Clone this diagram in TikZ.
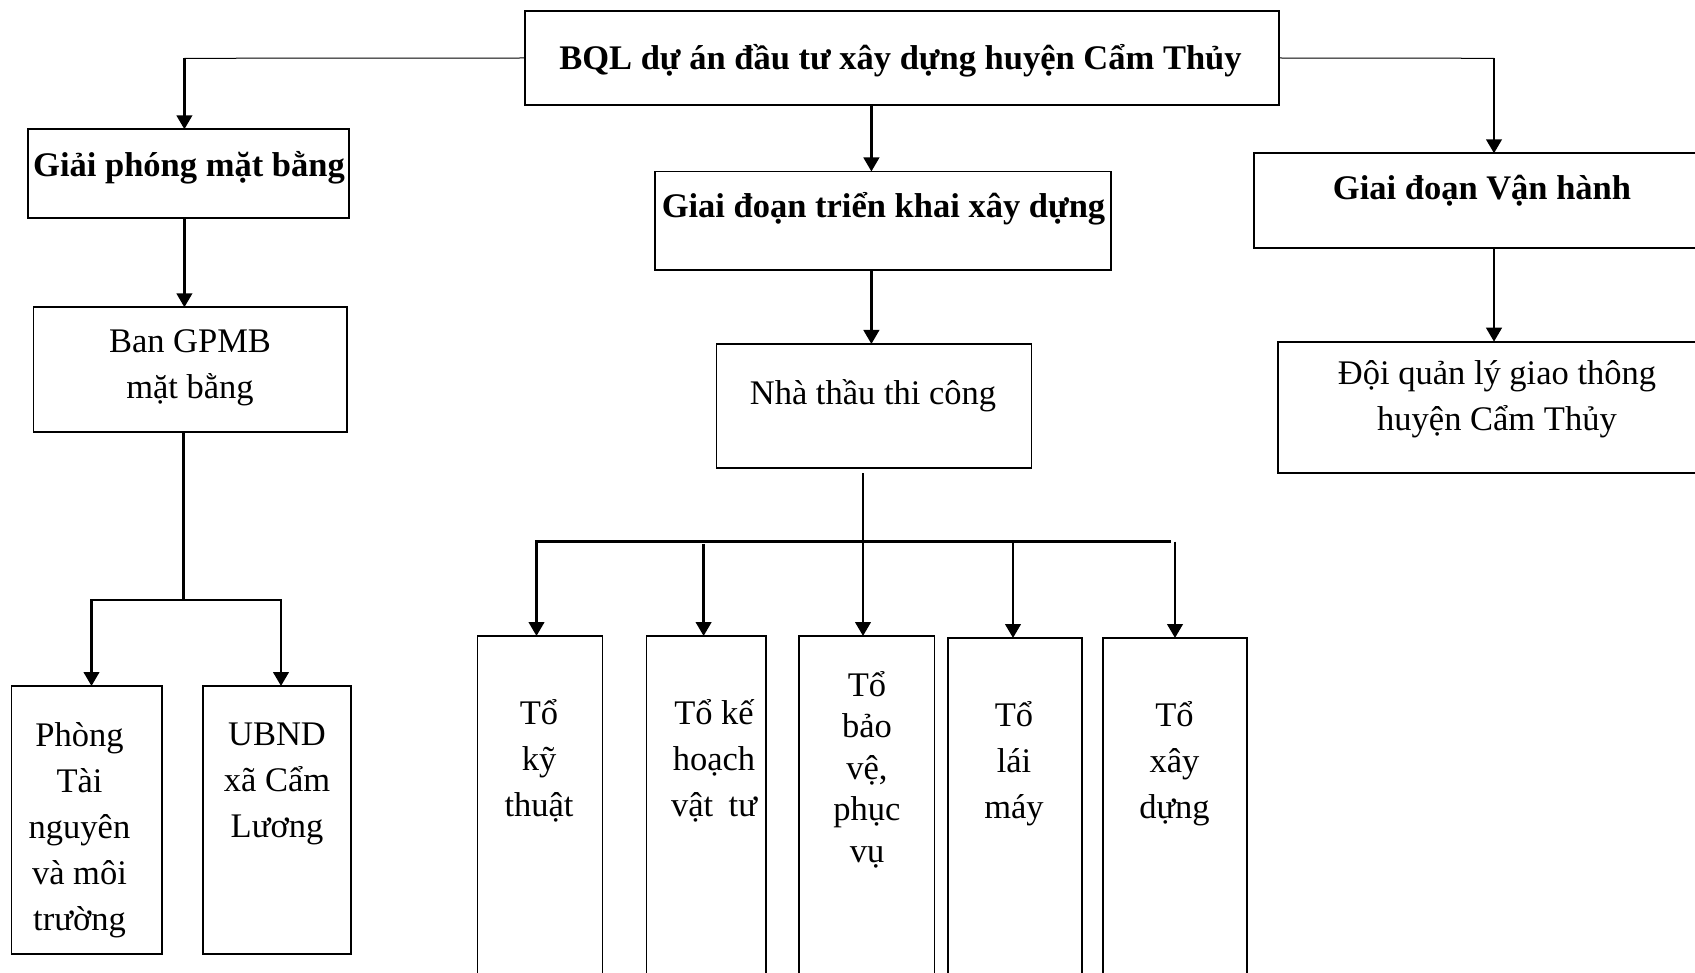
\documentclass[tikz,border=0pt]{standalone}
\usepackage{fontspec}
\setmainfont{Liberation Serif}
\usetikzlibrary{arrows.meta}
\begin{document}
\begin{tikzpicture}[x=1pt,y=-1pt,
  box/.style 2 args={draw, line width=1.8pt, inner sep=0pt, outer sep=0pt, anchor=north west, minimum width=#1, minimum height=#2},
  lbl/.style={inner sep=0pt, align=center, font=\fontsize{34.5}{46}\selectfont, execute at begin node=\strut},
  bl/.style={inner sep=0pt, font=\fontsize{34.5}{46}\selectfont\bfseries},
  ln/.style={line width=2.7pt},
  thinln/.style={line width=1pt},
  arr/.style={line width=2.7pt, -{Triangle[length=14pt,width=15.5pt]}}]
\path[use as bounding box] (0,0) rectangle (1695,973);
\clip (0,0) rectangle (1695,973);

% boxes
\node[box={754pt}{94.6pt}] (bql) at (524.6,10.7) {};
\node[box={321pt}{88.4pt}] (gpmb) at (27.7,129.3) {};
\node[box={313.8pt}{125pt}] (ban) at (33.5,307.3) {};
\node[box={150.5pt}{268pt}] (phong) at (11.5,686) {};
\node[box={148.3pt}{268pt}] (ubnd) at (203,686) {};
\node[box={456pt}{98.5pt}] (gtk) at (655,171.5) {};
\node[box={315pt}{124pt}] (nt) at (716.5,344) {};
\node[box={500pt}{94.4pt}] (gvh) at (1253.6,153.3) {};
\node[box={500pt}{131.6pt}] (doi) at (1278,341.7) {};
\node[box={125pt}{400pt}] (t1) at (477.5,636) {};
\node[box={119.5pt}{400pt}] (t2) at (646.5,636) {};
\node[box={135.5pt}{400pt}] (t3) at (799,636) {};
\node[box={134pt}{400pt}] (t4) at (948,638) {};
\node[box={144pt}{400pt}] (t5) at (1103,638) {};

% texts
\node[bl, anchor=base] (tbql) at (900.5,70) {BQL dự án đầu tư xây dựng huyện Cẩm Thủy};
\node[bl, anchor=base] (tgpmb) at (189,176.7) {Giải phóng mặt bằng};
\node[lbl, anchor=north] (tban) at (190,329) {Ban GPMB\\mặt bằng};
\node[bl, anchor=base] (tgtk) at (883.5,218) {Giai đoạn triển khai xây dựng};
\node[lbl, anchor=base, execute at begin node={}] (tnt) at (873,405) {Nhà thầu thi công};
\node[bl, anchor=base] (tgvh) at (1482,200) {Giai đoạn Vận hành};
\node[lbl, anchor=north] (tdoi) at (1497,360.3) {Đội quản lý giao thông\\huyện Cẩm Thủy};
\node[lbl, anchor=north] (tphong) at (79.5,722.3) {Phòng\\Tài\\nguyên\\và môi\\trường};
\node[lbl, anchor=north] (tubnd) at (277,722.3) {UBND\\xã Cẩm\\Lương};
\node[lbl, anchor=north] (tt1) at (539,699.5) {Tổ\\kỹ\\thuật};
\node[lbl, anchor=north] (tt2) at (714,699.5) {Tổ kế\\hoạch\\vật\hspace{0.45em}tư};
\node[lbl, anchor=north, font=\fontsize{34.5}{41.5}\selectfont] (tt3) at (867,670.8) {Tổ\\bảo\\vệ,\\phục\\vụ};
\node[lbl, anchor=north] (tt4) at (1014,701.5) {Tổ\\lái\\máy};
\node[lbl, anchor=north] (tt5) at (1174.5,701.5) {Tổ\\xây\\dựng};

% connectors: top level
\coordinate (jl) at (184.4,58.3);
\coordinate (jr) at (1494,58.3);
\coordinate (cx) at (871.4,0);
\draw[thinln] (bql.west) -- (jl);
\draw[arr] (jl) -- (jl |- gpmb.north);
\draw[thinln] (bql.east) -- (jr);
\draw[arr] (jr) -- (jr |- gvh.north);
\draw[arr] (cx |- bql.south) -- (cx |- gtk.north);
\draw[arr] (cx |- gtk.south) -- (cx |- nt.north);
\draw[arr] (jr |- gvh.south) -- (jr |- doi.north);
\draw[arr] (jl |- gpmb.south) -- (jl |- ban.north);

% left branch
\coordinate (bj) at (183.5,600);
\coordinate (bl) at (91.5,600);
\coordinate (br) at (281,600);
\draw[ln] (bj |- ban.south) -- (bj);
\draw[arr] (bj) -- (bl) -- (bl |- phong.north);
\draw[arr] (bj) -- (br) -- (br |- ubnd.north);

% middle branch
\coordinate (ns) at (863,473);
\coordinate (h1) at (536.5,541.7);
\coordinate (h5) at (1171,541.7);
\coordinate (v2) at (703.6,544);
\coordinate (v4) at (1013,541.7);
\coordinate (v5) at (1175,541.7);
\draw[arr] (ns) -- (ns |- t3.north);
\draw[arr] (h5) -- (h1) -- (h1 |- t1.north);
\draw[arr] (v2) -- (v2 |- t2.north);
\draw[arr] (v4) -- (v4 |- t4.north);
\draw[arr] (v5) -- (v5 |- t5.north);
\end{tikzpicture}
\end{document}
